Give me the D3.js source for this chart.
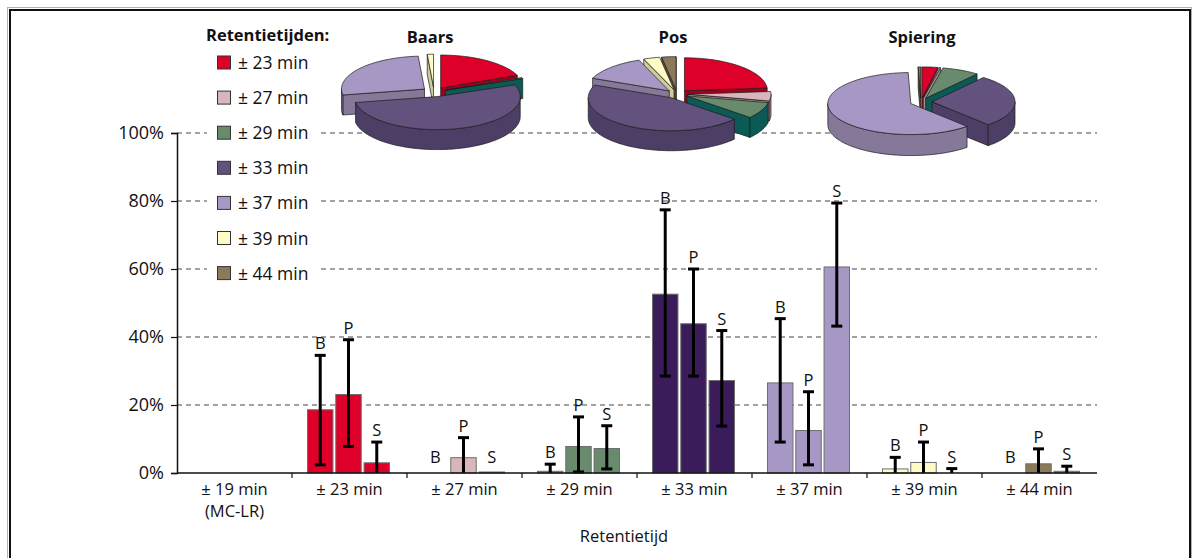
<!DOCTYPE html>
<html>
<head>
<meta charset="utf-8">
<script src="https://cdn.jsdelivr.net/npm/d3@7"></script>
<style>
  html, body { margin: 0; padding: 0; background: #fff; }
  svg { display: block; }
  text { font-family: "Open Sans", "Noto Sans", sans-serif; fill: #111; }
</style>
</head>
<body>
<svg id="chart" width="1198" height="558"></svg>
<script>
// Retention-time categories on the x axis
const categories = ["± 19 min", "± 23 min", "± 27 min", "± 29 min", "± 33 min", "± 37 min", "± 39 min", "± 44 min"];
const subLabels = ["(MC-LR)", "", "", "", "", "", "", ""];
const species = ["B", "P", "S"];
const speciesNames = ["Baars", "Pos", "Spiering"];

// Share of each peak (%) per species, with the lower and upper ends of the error bars
const baars     = [0, 18.6, 0, 0.5, 52.6, 26.5, 1.2, 0];
const baarsLow  = [null, 2.4, null, 0, 28.5, 9.1, 0, null];
const baarsHigh = [null, 34.6, null, 2.6, 77.4, 45.4, 4.6, null];

const pos       = [0, 23.1, 4.5, 7.8, 43.9, 12.5, 3.1, 2.7];
const posLow    = [null, 7.8, 0, 0.3, 28.5, 2.4, 0, 0];
const posHigh   = [null, 39.2, 10.4, 16.5, 60.0, 23.9, 9.1, 7.1];

const spiering     = [0, 3.0, 0.3, 7.2, 27.2, 60.6, 0, 0.5];
const spieringLow  = [null, 0, null, 1.2, 13.8, 43.2, 0, 0];
const spieringHigh = [null, 9.1, null, 13.9, 41.9, 79.4, 1.3, 2.0];

// Which categories carry B/P/S letters
const showLabels = [false, true, true, true, true, true, true, true];

const yTicks = [0, 20, 40, 60, 80, 100];
const axisTitle = "Retentietijd";
const legendTitle = "Retentietijden:";

// Colours per retention time (index matches categories)
const barColors  = ["#cccccc", "#de0029", "#d9b6bb", "#688b6d", "#3b1c5b", "#a797c4", "#fffbc6", "#8b7a5a"];
const pieColors  = ["#cccccc", "#de0029", "#d9b6bb", "#688b6d", "#64527e", "#a797c4", "#fffbc6", "#8b7a5a"];
const sideColors = ["#999999", "#a3001e", "#a8888d", "#0c5a55", "#4d3e66", "#857899", "#cfcb98", "#5e5038"];

const seriesVals = [baars, pos, spiering];
const seriesLow  = [baarsLow, posLow, spieringLow];
const seriesHigh = [baarsHigh, posHigh, spieringHigh];

const svg = d3.select("#chart");

// Frame
svg.append("rect").attr("x", 0).attr("y", 0).attr("width", 1198).attr("height", 558).attr("fill", "#fff");
svg.append("rect").attr("x", 7.5).attr("y", 7.5).attr("width", 1184).attr("height", 600)
  .attr("fill", "none").attr("stroke", "#b0b0b0").attr("stroke-width", 1);
svg.append("rect").attr("x", 10).attr("y", 10).attr("width", 1180).attr("height", 600)
  .attr("fill", "none").attr("stroke", "#111").attr("stroke-width", 2);

// Scales
const x = d3.scaleBand().domain(categories).range([177, 1097]).paddingInner(0).paddingOuter(0);
const y = d3.scaleLinear().domain([0, 100]).range([473, 133]);
const xs = d3.scaleBand().domain(species).range([-42, 40]).paddingInner(0.1);

// Gridlines
svg.append("g").selectAll("line").data(yTicks.filter(d => d > 0)).join("line")
  .attr("x1", 177).attr("x2", 1097)
  .attr("y1", d => y(d)).attr("y2", d => y(d))
  .attr("stroke", "#444").attr("stroke-width", 1).attr("stroke-dasharray", "5,4");

// Y axis
const yAxis = svg.append("g").attr("transform", "translate(177,0)")
  .call(d3.axisLeft(y).tickValues(yTicks).tickFormat(d => d + "%").tickSize(6).tickPadding(7));
yAxis.select(".domain").attr("stroke", "#111").attr("stroke-width", 1.5);
yAxis.selectAll(".tick line").attr("stroke", "#111").attr("stroke-width", 1.2);
yAxis.selectAll(".tick text").style("font-size", "18px").style("font-family", "'Open Sans', sans-serif").attr("fill", "#111");

// Bars, error bars and letters
const bars = svg.append("g");
categories.forEach((cat, ci) => {
  species.forEach((sp, si) => {
    const v = seriesVals[si][ci];
    const lo = seriesLow[si][ci];
    const hi = seriesHigh[si][ci];
    const cx = x(cat) + x.bandwidth() / 2 + xs(sp) + xs.bandwidth() / 2;
    if (v > 0) {
      bars.append("rect")
        .attr("x", x(cat) + x.bandwidth() / 2 + xs(sp))
        .attr("y", y(v))
        .attr("width", xs.bandwidth())
        .attr("height", y(0) - y(v))
        .attr("fill", barColors[ci])
        .attr("stroke", "#6e6e6e").attr("stroke-width", 1);
    }
    if (hi !== null) {
      bars.append("line").attr("x1", cx).attr("x2", cx).attr("y1", y(lo)).attr("y2", y(hi))
        .attr("stroke", "#000").attr("stroke-width", 3);
      [lo, hi].forEach(e => {
        if (e > 0.05) {
          bars.append("line").attr("x1", cx - 5.5).attr("x2", cx + 5.5).attr("y1", y(e)).attr("y2", y(e))
            .attr("stroke", "#000").attr("stroke-width", 3);
        }
      });
    }
    if (showLabels[ci]) {
      const top = Math.max(v, hi === null ? 0 : hi);
      const base = Math.min(y(top) - 6, y(0) - 10);
      bars.append("text").attr("x", cx).attr("y", base).attr("text-anchor", "middle")
        .style("font-size", "16.5px").text(sp);
    }
  });
});

// X axis
svg.append("line").attr("x1", 177).attr("x2", 1097).attr("y1", y(0)).attr("y2", y(0))
  .attr("stroke", "#111").attr("stroke-width", 1.5);
svg.append("g").selectAll("line").data(categories.slice(1)).join("line")
  .attr("x1", d => x(d)).attr("x2", d => x(d)).attr("y1", y(0)).attr("y2", y(0) + 5)
  .attr("stroke", "#111").attr("stroke-width", 1.2);
const xl = svg.append("g");
categories.forEach((cat, ci) => {
  const cx = x(cat) + x.bandwidth() / 2;
  xl.append("text").attr("x", cx).attr("y", 495).attr("text-anchor", "middle").style("font-size", "16.5px").text(cat);
  if (subLabels[ci]) {
    xl.append("text").attr("x", cx).attr("y", 517).attr("text-anchor", "middle").style("font-size", "16.5px").text(subLabels[ci]);
  }
});
svg.append("text").attr("x", 624).attr("y", 542).attr("text-anchor", "middle").style("font-size", "16.5px").text(axisTitle);

// Legend
const leg = svg.append("g");
leg.append("rect").attr("x", 207).attr("y", 18).attr("width", 111).attr("height", 272).attr("fill", "#fff");
leg.append("text").attr("x", 206).attr("y", 41).style("font-size", "16.5px").style("font-weight", "bold").text(legendTitle);
categories.slice(1).forEach((cat, i) => {
  const cy = 63 + i * 35.1;
  leg.append("rect").attr("x", 217.5).attr("y", cy - 7).attr("width", 13).attr("height", 13)
    .attr("fill", pieColors[i + 1]).attr("stroke", "#333").attr("stroke-width", 1);
  leg.append("text").attr("x", 238).attr("y", cy + 6).style("font-size", "17.5px").text(cat);
});

// 3D exploded pies
const pieCfg = [
  { cx: 434, cy: 92, rx: 83, ry: 33, depth: 20, e: 12, tx: 430 },
  { cx: 677, cy: 94, rx: 83, ry: 33, depth: 20, e: 11, tx: 673 },
  { cx: 921, cy: 102, rx: 83, ry: 31, depth: 21, e: 11, tx: 922 }
];

function drawPie(values, cfg, title) {
  const g = svg.append("g");
  const idx = d3.range(1, categories.length);
  const arcs = d3.pie().sort(null).startAngle(0).endAngle(2 * Math.PI).value(i => values[i])(idx)
    .filter(a => a.value > 0);
  const k = cfg.ry / cfg.rx;
  const faces = [], curved = [], tops = [];
  arcs.forEach(a => {
    const ci = a.data;
    const mid = (a.startAngle + a.endAngle) / 2;
    const ax = cfg.cx + cfg.e * Math.sin(mid);
    const ay = cfg.cy - cfg.e * Math.cos(mid) * k;
    const rim = (t, dy = 0) => [ax + cfg.rx * Math.sin(t), ay - cfg.ry * Math.cos(t) + dy];
    const arcPts = (t0, t1, dy = 0) => {
      const n = Math.max(2, Math.ceil((t1 - t0) / 0.03));
      return d3.range(n + 1).map(j => rim(t0 + (t1 - t0) * j / n, dy));
    };
    // top face
    tops.push({ pts: [[ax, ay], ...arcPts(a.startAngle, a.endAngle)], fill: pieColors[ci] });
    // radial faces facing the viewer
    [[a.startAngle, Math.sin(a.startAngle) < 0], [a.endAngle, Math.sin(a.endAngle) > 0]].forEach(([t, vis]) => {
      if (!vis) return;
      const p = rim(t);
      faces.push({
        key: ay + 0.5 * (p[1] - ay),
        pts: [[ax, ay], p, [p[0], p[1] + cfg.depth], [ax, ay + cfg.depth]],
        fill: sideColors[ci]
      });
    });
    // outer wall on the front half
    const t0 = Math.max(a.startAngle, Math.PI / 2), t1 = Math.min(a.endAngle, 3 * Math.PI / 2);
    if (t1 > t0) {
      const upper = arcPts(t0, t1), lower = arcPts(t0, t1, cfg.depth).reverse();
      curved.push({ key: rim((t0 + t1) / 2)[1], pts: [...upper, ...lower], fill: sideColors[ci] });
    }
  });
  const line = d3.line();
  const drawSet = (set) => set.forEach(f => g.append("path").attr("d", line(f.pts) + "Z")
    .attr("fill", f.fill).attr("stroke", "#1a1a1a").attr("stroke-width", 0.7).attr("stroke-linejoin", "round"));
  drawSet(faces.sort((p, q) => p.key - q.key));
  drawSet(curved.sort((p, q) => p.key - q.key));
  drawSet(tops);
  svg.append("text").attr("x", cfg.tx).attr("y", 43).attr("text-anchor", "middle")
    .style("font-size", "16.5px").style("font-weight", "bold").text(title);
}

seriesVals.forEach((vals, si) => drawPie(vals, pieCfg[si], speciesNames[si]));
</script>
</body>
</html>
